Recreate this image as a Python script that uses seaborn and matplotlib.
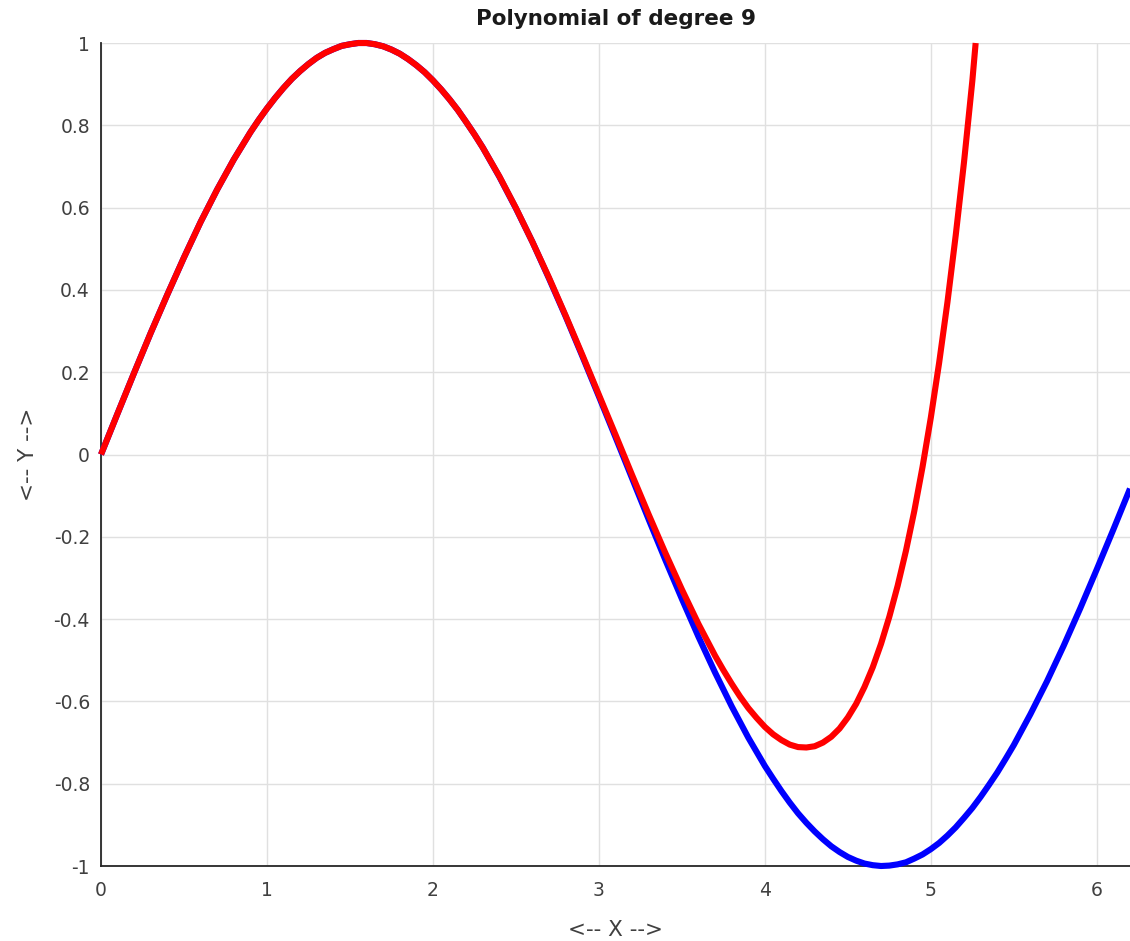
import matplotlib
matplotlib.use("Agg")
import matplotlib.pyplot as plt
import seaborn as sns
import pandas as pd

# values (blue: sine curve, red: degree 9 polynomial)
# finer steps where the curves bend the most
x_blue = [0.0, 0.1, 0.2, 0.3, 0.4, 0.5, 0.6, 0.7, 0.8, 0.9, 0.95,
          1.0, 1.05, 1.1, 1.15, 1.2, 1.25, 1.3, 1.35, 1.4, 1.45,
          1.5, 1.55, 1.6, 1.65, 1.7, 1.75, 1.8, 1.85, 1.9, 1.95,
          2.0, 2.05, 2.1, 2.15, 2.2, 2.25, 2.3, 2.4, 2.5, 2.6, 2.7, 2.8, 2.9,
          3.0, 3.1, 3.2, 3.3, 3.4, 3.5, 3.6, 3.7, 3.8, 3.9,
          4.0, 4.05, 4.1, 4.15, 4.2, 4.25, 4.3, 4.35, 4.4, 4.45,
          4.5, 4.55, 4.6, 4.65, 4.7, 4.75, 4.8, 4.85, 4.9, 4.95,
          5.0, 5.05, 5.1, 5.15, 5.2, 5.25, 5.3, 5.35, 5.4, 5.45,
          5.5, 5.6, 5.7, 5.8, 5.9, 6.0, 6.1, 6.2]
y_blue = [0.000, 0.100, 0.199, 0.296, 0.389, 0.479, 0.565, 0.644, 0.717, 0.783, 0.813,
          0.841, 0.867, 0.891, 0.913, 0.932, 0.949, 0.964, 0.976, 0.985, 0.993,
          0.997, 1.000, 1.000, 0.997, 0.992, 0.984, 0.974, 0.961, 0.946, 0.929,
          0.909, 0.887, 0.863, 0.837, 0.808, 0.778, 0.746, 0.675, 0.598, 0.516, 0.427, 0.335, 0.239,
          0.141, 0.042, -0.058, -0.158, -0.256, -0.351, -0.443, -0.530, -0.612, -0.688,
          -0.757, -0.788, -0.818, -0.846, -0.872, -0.895, -0.916, -0.935, -0.952, -0.966,
          -0.978, -0.987, -0.994, -0.998, -1.000, -0.999, -0.996, -0.991, -0.982, -0.972,
          -0.959, -0.944, -0.926, -0.906, -0.883, -0.859, -0.832, -0.803, -0.773, -0.740,
          -0.706, -0.631, -0.551, -0.465, -0.374, -0.279, -0.182, -0.083]

x_red = [0.0, 0.1, 0.2, 0.3, 0.4, 0.5, 0.6, 0.7, 0.8, 0.9, 0.95,
         1.0, 1.05, 1.1, 1.15, 1.2, 1.25, 1.3, 1.35, 1.4, 1.45,
         1.5, 1.55, 1.6, 1.65, 1.7, 1.75, 1.8, 1.85, 1.9, 1.95,
         2.0, 2.05, 2.1, 2.15, 2.2, 2.25, 2.3, 2.4, 2.5, 2.6, 2.7, 2.8, 2.9,
         3.0, 3.1, 3.2, 3.3, 3.4, 3.5, 3.6, 3.7, 3.75, 3.8, 3.85, 3.9, 3.95,
         4.0, 4.05, 4.1, 4.15, 4.2, 4.25, 4.3, 4.35, 4.4, 4.45,
         4.5, 4.55, 4.6, 4.65, 4.7, 4.75, 4.8, 4.85, 4.9, 4.95,
         5.0, 5.05, 5.1, 5.15, 5.2, 5.25, 5.27]
y_red = [0.000, 0.100, 0.199, 0.296, 0.389, 0.479, 0.565, 0.644, 0.717, 0.783, 0.813,
         0.841, 0.867, 0.891, 0.913, 0.932, 0.949, 0.964, 0.976, 0.985, 0.993,
         0.997, 1.000, 1.000, 0.997, 0.992, 0.984, 0.974, 0.961, 0.946, 0.929,
         0.909, 0.887, 0.863, 0.837, 0.808, 0.778, 0.746, 0.676, 0.599, 0.516, 0.429, 0.337, 0.242,
         0.145, 0.048, -0.050, -0.146, -0.239, -0.328, -0.412, -0.489, -0.524, -0.557, -0.588, -0.616, -0.640,
         -0.662, -0.680, -0.694, -0.705, -0.711, -0.712, -0.709, -0.700, -0.686, -0.666,
         -0.639, -0.606, -0.565, -0.517, -0.460, -0.394, -0.319, -0.234, -0.138, -0.030,
         0.090, 0.223, 0.370, 0.533, 0.711, 0.908, 1.000]

x_ticks = [0, 1, 2, 3, 4, 5, 6]
y_ticks = [-1, -0.8, -0.6, -0.4, -0.2, 0, 0.2, 0.4, 0.6, 0.8, 1]
y_tick_labels = ["-1", "-0.8", "-0.6", "-0.4", "-0.2", "0", "0.2", "0.4", "0.6", "0.8", "1"]

sns.set_style("white")
plt.rcParams['font.family'] = ['DejaVu Sans']

text_col = "#404040"

fig = plt.figure(figsize=(11.3, 9.41), dpi=100)
ax = fig.add_axes([0.0894, 0.0797, 0.9106, 0.8746])

blue = pd.DataFrame({"x": x_blue, "y": y_blue})
red = pd.DataFrame({"x": x_red, "y": y_red})
sns.lineplot(data=blue, x="x", y="y", color="#0000ff", linewidth=4.4, ax=ax,
             sort=False, clip_on=False, zorder=3, solid_joinstyle="round",
             solid_capstyle="butt")
sns.lineplot(data=red, x="x", y="y", color="#ff0000", linewidth=4.4, ax=ax,
             sort=False, clip_on=False, zorder=4, solid_joinstyle="round",
             solid_capstyle="butt")

ax.set_xlim(0, 6.2)
ax.set_ylim(-1, 1)
ax.set_xticks(x_ticks)
ax.set_xticklabels([str(t) for t in x_ticks])
ax.set_yticks(y_ticks)
ax.set_yticklabels(y_tick_labels)

ax.grid(True, color="#e0e0e0", linewidth=1.0)
ax.set_axisbelow(True)
for side in ["top", "right"]:
    ax.spines[side].set_visible(False)
for side in ["left", "bottom"]:
    ax.spines[side].set_color("#262626")
    ax.spines[side].set_linewidth(1.3)
    ax.spines[side].set_zorder(2)

ax.tick_params(axis="both", direction="in", length=5, width=1.2, color="#262626",
               labelsize=13.5, labelcolor=text_col)
ax.tick_params(axis="x", pad=11)
ax.tick_params(axis="y", pad=8)

ax.set_xlabel("<-- X -->", fontsize=15.5, color=text_col, labelpad=14)
ax.set_ylabel("<-- Y -->", fontsize=15.5, color=text_col, labelpad=11)
ax.set_title("Polynomial of degree 9", fontsize=15.5, fontweight="bold", color="#1a1a1a", pad=13)

fig.savefig("out.png", dpi=100)
